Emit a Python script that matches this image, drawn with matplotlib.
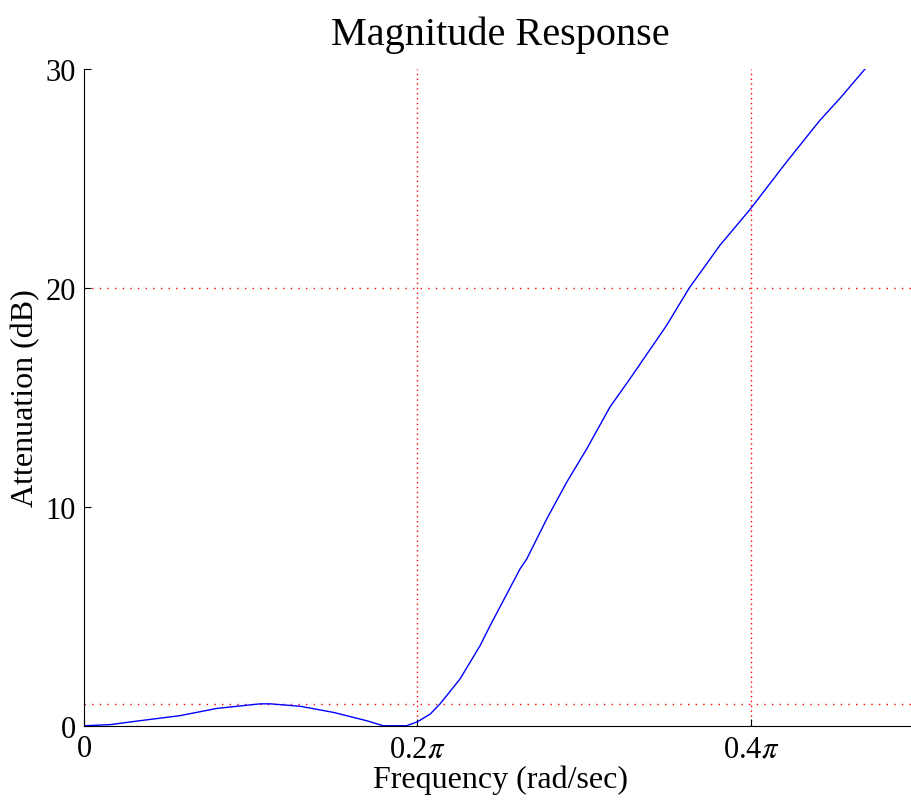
import matplotlib.pyplot as plt
import numpy as np

plt.rcParams['font.family'] = ['Liberation Serif', 'DejaVu Serif']
plt.rcParams['mathtext.fontset'] = 'stix'

# frequency in units of pi, attenuation in dB
freq_pi = [0.0, 0.0156, 0.0336, 0.0576, 0.0796, 0.1056, 0.1116, 0.1296, 0.1496,
           0.1695, 0.1795, 0.1935, 0.2, 0.2076, 0.2136, 0.2256, 0.2376, 0.2436,
           0.2616, 0.2656, 0.2776, 0.2896, 0.3016, 0.3155, 0.3275, 0.3495,
           0.3631, 0.3815, 0.4, 0.4215, 0.4415, 0.4535, 0.4685]
atten_db = [0.0, 0.05, 0.23, 0.46, 0.79, 1.0, 1.0, 0.89, 0.61,
            0.23, 0.0, 0.0, 0.18, 0.53, 1.0, 2.14, 3.66, 4.57,
            7.17, 7.62, 9.45, 11.13, 12.65, 14.56, 15.85, 18.29,
            20.0, 21.95, 23.63, 25.76, 27.66, 28.66, 30.0]

grid_x = [0.2, 0.4]
grid_y = [1, 20]
xticks = [0, 0.2, 0.4]
xtick_labels = ['0', '0.2$\\pi$', '0.4$\\pi$']
yticks = [0, 10, 20, 30]

fig = plt.figure(figsize=(9.11, 8.04), dpi=100)
ax = fig.add_axes([0.0922, 0.0961, 0.915, 0.8169])

for gx in grid_x:
    ax.axvline(gx, color='red', lw=1, linestyle=(0, (1, 2.5)), zorder=1)
for gy in grid_y:
    ax.axhline(gy, color='red', lw=1, linestyle=(0, (1, 4.5)), zorder=1)

ax.plot(freq_pi, atten_db, color='#0000ff', lw=1, zorder=2)

ax.set_xlim(0, 0.5)
ax.set_ylim(0, 30)
ax.set_xticks(xticks, xtick_labels)
ax.set_yticks(yticks)
ax.tick_params(direction='in', length=5, labelsize=22, pad=6)
ax.spines['top'].set_visible(False)
ax.spines['right'].set_visible(False)

ax.set_title('Magnitude Response', fontsize=29, pad=18)
ax.set_xlabel('Frequency (rad/sec)', fontsize=23, labelpad=1)
ax.set_ylabel('Attenuation (dB)', fontsize=23, labelpad=4)

fig.savefig('out.png', dpi=100)
